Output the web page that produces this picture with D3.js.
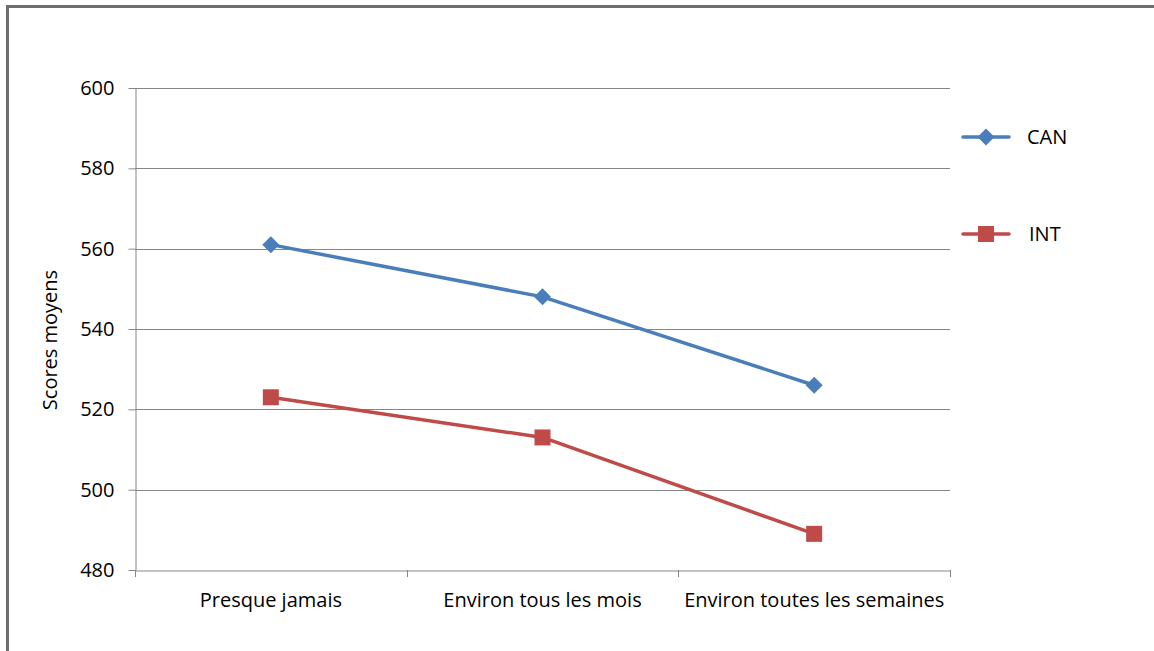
<!DOCTYPE html>
<html><head><meta charset="utf-8">
<script src="https://cdn.jsdelivr.net/npm/d3@7"></script>
<style>body{margin:0;background:#fff;overflow:hidden}svg{display:block}text{font-family:"Open Sans",sans-serif;fill:#000}</style>
</head><body>
<svg id="c" width="1154" height="651"></svg>
<script>
const categories = ["Presque jamais", "Environ tous les mois", "Environ toutes les semaines"];
const seriesNames = ["CAN", "INT"];
const canValues = [561, 548, 526];
const intValues = [523, 513, 489];
const yTicks = [480, 500, 520, 540, 560, 580, 600];
const yTitle = "Scores moyens";

const svg = d3.select("#c");
const L = 135, R = 950, T = 88, B = 570;
const colors = ["#4A7EBB", "#BE4B48"];

// frame
svg.append("rect").attr("x", 7.5).attr("y", 6.5).attr("width", 1200).attr("height", 700)
  .attr("fill", "none").attr("stroke", "#6e6e6e").attr("stroke-width", 3);

const x = d3.scaleBand().domain(categories).range([L, R]);
const y = d3.scaleLinear().domain([480, 600]).range([B, T]);

// gridlines
svg.append("g").selectAll("line").data(yTicks.slice(1)).join("line")
  .attr("x1", L).attr("x2", R).attr("y1", d => Math.round(y(d)) + 0.5).attr("y2", d => Math.round(y(d)) + 0.5)
  .attr("stroke", "#868686").attr("stroke-width", 1);

// y axis
const ya = svg.append("g").attr("transform", `translate(${L + 0.5},0)`)
  .call(d3.axisLeft(y).tickValues(yTicks).tickSize(7).tickPadding(14).tickSizeOuter(0));
ya.select(".domain").attr("stroke", "#868686");
ya.selectAll(".tick line").attr("stroke", "#868686");
ya.selectAll(".tick text").style("font-size", "20px");

// x axis
const xa = svg.append("g").attr("transform", `translate(0,${B + 0.5})`)
  .call(d3.axisBottom(x).tickSize(0).tickPadding(22).tickSizeOuter(0));
xa.select(".domain").attr("stroke", "#868686");
xa.selectAll(".tick text").style("font-size", "20px");
// category boundary ticks
const bounds = categories.map(c => x(c)).concat([x(categories[categories.length - 1]) + x.bandwidth()]);
svg.append("g").selectAll("line").data(bounds).join("line")
  .attr("x1", d => Math.round(d) + 0.5).attr("x2", d => Math.round(d) + 0.5)
  .attr("y1", B).attr("y2", B + 7).attr("stroke", "#868686");

// y title
svg.append("text").attr("transform", `translate(57,${(T + B) / 2 + 11}) rotate(-90)`)
  .attr("text-anchor", "middle").style("font-size", "20px").text(yTitle);

const cx = d => x(d) + x.bandwidth() / 2;
const line = d3.line().x((d, i) => cx(categories[i])).y(d => y(d));
const data = [canValues, intValues];

data.forEach((vals, si) => {
  svg.append("path").attr("d", line(vals)).attr("fill", "none")
    .attr("stroke", colors[si]).attr("stroke-width", 3.5).attr("stroke-linejoin", "round");
});

function marker(g, si, px, py) {
  if (si === 0) {
    g.append("path").attr("d", `M${px},${py - 8.5}L${px + 8.5},${py}L${px},${py + 8.5}L${px - 8.5},${py}Z`).attr("fill", colors[0]);
  } else {
    g.append("rect").attr("x", px - 8).attr("y", py - 8).attr("width", 16).attr("height", 16).attr("fill", colors[1]);
  }
}
const mg = svg.append("g");
data.forEach((vals, si) => vals.forEach((v, i) => marker(mg, si, cx(categories[i]), y(v))));

// legend
const legY = [137, 234];
seriesNames.forEach((n, si) => {
  const ly = legY[si];
  svg.append("line").attr("x1", 963).attr("x2", 1009).attr("y1", ly).attr("y2", ly)
    .attr("stroke", colors[si]).attr("stroke-width", 3.5).attr("stroke-linecap", "round");
  marker(svg, si, 986, ly);
  svg.append("text").attr("x", si === 0 ? 1027 : 1029).attr("y", ly + 7).style("font-size", "20px").text(n);
});
</script>
</body></html>
